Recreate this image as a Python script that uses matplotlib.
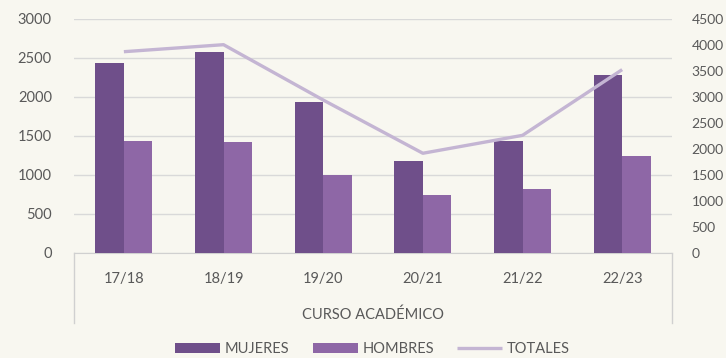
import matplotlib.pyplot as plt
import numpy as np
from matplotlib.lines import Line2D

cursos = ['17/18', '18/19', '19/20', '20/21', '21/22', '22/23']
mujeres = [2430, 2580, 1940, 1180, 1440, 2280]
hombres = [1440, 1425, 1000, 735, 820, 1245]
totales = [3870, 4005, 2940, 1915, 2260, 3525]

fondo = '#f8f7f0'
gris = '#595959'
c_muj = '#6f4f8a'
c_hom = '#8e67a6'
c_tot = '#c4b5d3'

plt.rcParams['font.family'] = ['Lato', 'DejaVu Sans']
plt.rcParams['font.size'] = 10

fig = plt.figure(figsize=(7.26, 3.58), dpi=100, facecolor=fondo)
ax = fig.add_axes([0.102, 0.294, 0.8236, 0.653])
ax.set_facecolor(fondo)
ax2 = ax.twinx()

x = np.arange(len(cursos))
w = 0.285
b1 = ax.bar(x - w / 2, mujeres, w, color=c_muj, label='MUJERES', zorder=3)
b2 = ax.bar(x + w / 2, hombres, w, color=c_hom, label='HOMBRES', zorder=3)
l1, = ax2.plot(x, totales, color=c_tot, lw=2.4, label='TOTALES', solid_capstyle='butt')

ax.set_xlim(-0.5, len(cursos) - 0.5)
ax.set_ylim(0, 3000)
ax.set_yticks(range(0, 3001, 500))
ax2.set_ylim(0, 4500)
ax2.set_yticks(range(0, 4501, 500))

ax.grid(axis='y', color='#d9d9d9', lw=1, zorder=0)
for a in (ax, ax2):
    for s in a.spines.values():
        s.set_visible(False)
ax.spines['bottom'].set_visible(True)
ax.spines['bottom'].set_color('#d0d0d0')

ax.set_xticks(x, cursos)
ax.tick_params(axis='x', length=0, pad=14, colors=gris, labelsize=10.5)
ax.tick_params(axis='y', length=0, pad=16, colors=gris, labelsize=10.5)
ax2.tick_params(axis='y', length=0, pad=14, colors=gris, labelsize=10)
ax.set_xlabel('CURSO ACADÉMICO', color=gris, fontsize=10.5, labelpad=15)

# líneas verticales que enmarcan el eje de categorías
for xv in (0, 1):
    ax.add_line(Line2D([xv, xv], [0, -0.30], transform=ax.transAxes,
                       color='#d0d0d0', lw=1, clip_on=False))

leg = fig.legend(handles=[b1, b2, l1], loc='center', bbox_to_anchor=(0.513, 0.025),
                 ncol=3, frameon=False, fontsize=10.5, handlelength=3.1,
                 handleheight=0.75, columnspacing=1.6, handletextpad=0.3)
for t in leg.get_texts():
    t.set_color(gris)

fig.savefig('out.png', dpi=100, facecolor=fondo)
